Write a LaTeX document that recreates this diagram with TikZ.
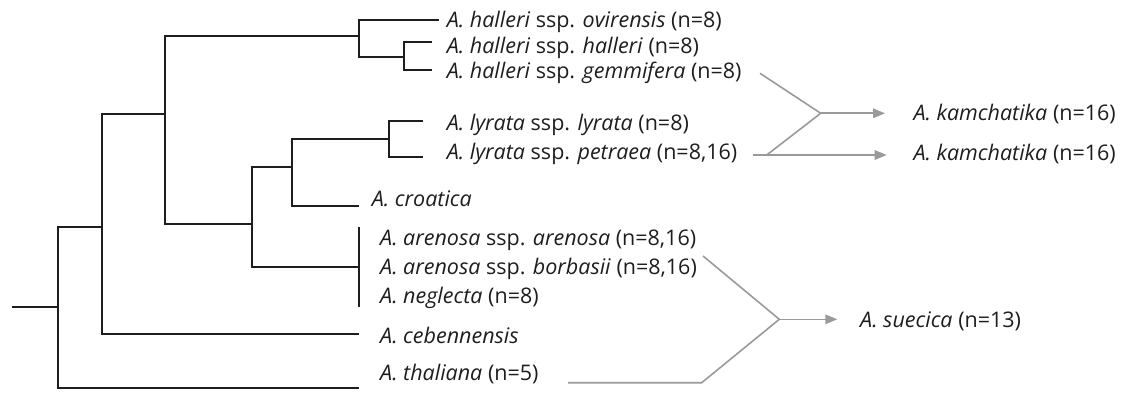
\documentclass[tikz,border=0pt]{standalone}
\usepackage{fontspec}
\setmainfont{Open Sans}
\usetikzlibrary{arrows.meta}
\definecolor{treeline}{HTML}{1E1E1E}
\definecolor{hybgrey}{HTML}{9A9A9A}
\tikzset{
  tree/.style={draw=treeline, line width=1.7pt},
  hyb/.style={draw=hybgrey, line width=1.6pt},
  hybarrow/.style={hyb, -{Triangle[length=12pt,width=9.5pt,fill=hybgrey]}},
  taxon/.style={anchor=base west, inner sep=0pt, font=\fontsize{21.5}{26}\selectfont, text=treeline},
}
\begin{document}
\begin{tikzpicture}[x=1pt,y=-1pt]
\useasboundingbox (0,0) rectangle (1129,393);
% tree nodes
\coordinate (stub) at (11.7,307.3);
\coordinate (R) at (58.3,307.3);
\coordinate (A) at (102.3,226.7);
\coordinate (B) at (165,114.3);
\coordinate (H) at (359.3,36);
\coordinate (H2) at (404.3,56.7);
\coordinate (C) at (251.7,224);
\coordinate (D) at (291.7,166.7);
\coordinate (L) at (389,139.3);
\coordinate (E) at (359.3,267.3);
\coordinate (Etop) at (359.3,226.7);
\coordinate (Ebot) at (359.3,306.7);
% leaf ends
\coordinate (lov) at (439,20);
\coordinate (lha) at (431.7,42.3);
\coordinate (lge) at (431.7,70);
\coordinate (lly) at (422.7,121);
\coordinate (lpe) at (422.7,157.3);
\coordinate (lcr) at (359.3,205.7);
\coordinate (lce) at (359.3,334.3);
\coordinate (lth) at (359.3,387.7);
% taxa
\node[taxon] (ov) at (446.7,27.3) {\textit{A. halleri} ssp. \textit{ovirensis} (n=8)};
\node[taxon] (ha) at (446.7,53.5) {\textit{A. halleri} ssp. \textit{halleri} (n=8)};
\node[taxon] (ge) at (446.7,79) {\textit{A. halleri} ssp. \textit{gemmifera} (n=8)};
\node[taxon] (ly) at (446.7,130.5) {\textit{A. lyrata} ssp. \textit{lyrata} (n=8)};
\node[taxon] (pe) at (446.7,159) {\textit{A. lyrata} ssp. \textit{petraea} (n=8,16)};
\node[taxon] (cr) at (371.7,206.5) {\textit{A. croatica}};
\node[taxon] (ar) at (380,245.5) {\textit{A. arenosa} ssp. \textit{arenosa} (n=8,16)};
\node[taxon] (bo) at (380,274.5) {\textit{A. arenosa} ssp. \textit{borbasii} (n=8,16)};
\node[taxon] (ne) at (380,303.5) {\textit{A. neglecta} (n=8)};
\node[taxon] (ce) at (380,343.5) {\textit{A. cebennensis}};
\node[taxon] (th) at (380,380) {\textit{A. thaliana} (n=5)};
\node[taxon] (ka1) at (913.3,120.5) {\textit{A. kamchatika} (n=16)};
\node[taxon] (ka2) at (913.3,160.5) {\textit{A. kamchatika} (n=16)};
\node[taxon] (su) at (860,327) {\textit{A. suecica} (n=13)};
% tree
\draw[tree] (stub) -- (R);
\draw[tree] (R) |- (A);
\draw[tree] (R) |- (lth);
\draw[tree] (A) |- (B);
\draw[tree] (A) |- (lce);
\draw[tree] (B) |- (H);
\draw[tree] (H) |- (lov);
\draw[tree] (H) |- (H2);
\draw[tree] (H2) |- (lha);
\draw[tree] (H2) |- (lge);
\draw[tree] (B) |- (C);
\draw[tree] (C) |- (D);
\draw[tree] (D) |- (L);
\draw[tree] (L) |- (lly);
\draw[tree] (L) |- (lpe);
\draw[tree] (D) |- (lcr);
\draw[tree] (C) |- (E);
\draw[tree] (Etop) -- (Ebot);
% hybridisation
\coordinate (g1) at (760,73.3);
\coordinate (K) at (820.7,113.3);
\coordinate (k1end) at (885,113.3);
\coordinate (p1) at (753.3,155);
\coordinate (p2) at (766.7,155);
\coordinate (k2end) at (886.7,155);
\coordinate (s1) at (703,256);
\coordinate (J) at (779.3,319.3);
\coordinate (suend) at (837.3,319.3);
\coordinate (t1) at (568,382.7);
\coordinate (t2) at (701.7,382.7);
\draw[hyb] (g1) -- (K);
\draw[hyb] (p2) -- (K);
\draw[hybarrow] (K) -- (k1end);
\draw[hybarrow] (p1) -- (k2end);
\draw[hyb] (s1) -- (J);
\draw[hyb] (t1) -- (t2) -- (J);
\draw[hybarrow] (J) -- (suend);
\end{tikzpicture}
\end{document}
